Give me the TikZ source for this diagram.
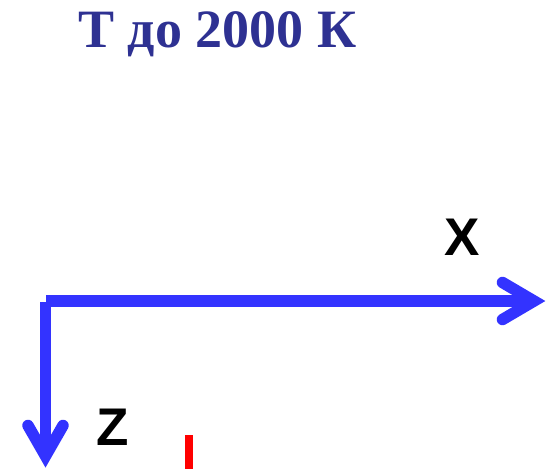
\documentclass[tikz,border=0pt]{standalone}
\usepackage{fontspec}
\setmainfont{Liberation Serif}
\newfontfamily\labelfont{Liberation Sans}
\definecolor{axisblue}{RGB}{51,51,255}
\definecolor{titleblue}{RGB}{46,49,146}
\definecolor{markred}{RGB}{255,0,0}
\begin{document}
\begin{tikzpicture}[x=1pt,y=-1pt,
  axisline/.style={draw=axisblue,line width=11.5pt,line cap=butt},
  chevron/.style={draw=axisblue,line width=11.5pt,line cap=round,line join=miter},
  axislabel/.style={font=\labelfont\bfseries\fontsize{53}{53}\selectfont,text=black,inner sep=0pt,anchor=base west},
  titletext/.style={font=\bfseries\fontsize{54}{54}\selectfont,text=titleblue,inner sep=0pt,anchor=base west}]
\useasboundingbox (0,0) rectangle (548,469);
% title
\node[titletext] (title) at (78,47) {Т до 2000 К};
% axes
\coordinate (xstart) at (46,301);
\coordinate (xtip) at (534,301);
\coordinate (zstart) at (45.5,302);
\coordinate (ztip) at (45.5,456);
\draw[axisline] (xstart) -- (xtip);
\draw[axisline] (zstart) -- (ztip);
\draw[chevron] ([shift={(-31.5,-18.5)}]xtip) -- (xtip) -- ([shift={(-31.5,18.5)}]xtip);
\draw[chevron] ([shift={(-17.5,-30.5)}]ztip) -- (ztip) -- ([shift={(17.5,-30.5)}]ztip);
% labels
\node[axislabel] (xlabel) at (444,255) {X};
\node[axislabel] (zlabel) at (96,445) {Z};
% red mark
\fill[markred] (185,435) rectangle (193,469);
\end{tikzpicture}
\end{document}
